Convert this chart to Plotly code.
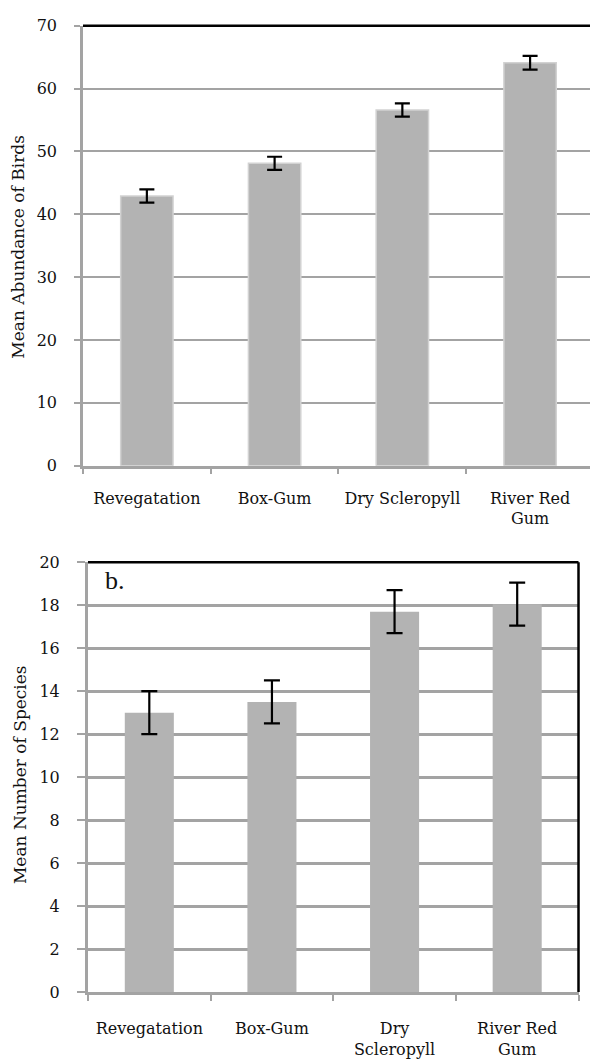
import plotly.graph_objects as go

# ---- data ----
cats_top = ["Revegatation", "Box-Gum", "Dry Scleropyll", "River Red<br>Gum"]
abund_mean = [42.9, 48.1, 56.6, 64.1]
abund_err = [1.05, 1.05, 1.05, 1.1]

cats_bot = ["Revegatation", "Box-Gum", "Dry<br>Scleropyll", "River Red<br>Gum"]
species_mean = [13.0, 13.5, 17.7, 18.05]
species_err = [1.0, 1.0, 1.0, 1.0]

top_ticks = [0, 10, 20, 30, 40, 50, 60, 70]
bot_ticks = [0, 2, 4, 6, 8, 10, 12, 14, 16, 18, 20]

W, H = 590, 1063
FONT = "DejaVu Serif"
GRID = "#a3a3a3"

def px(v):
    return v / W

def py(v):
    return 1 - v / H

fig = go.Figure()

fig.add_trace(go.Bar(
    x=cats_top, y=abund_mean, xaxis="x", yaxis="y", width=0.41,
    marker=dict(color="#b3b3b3", line=dict(color="#d2d2d2", width=1.5)),
    error_y=dict(type="data", array=abund_err, color="black", thickness=2.2, width=7.5),
    showlegend=False,
))
fig.add_trace(go.Bar(
    x=cats_bot, y=species_mean, xaxis="x2", yaxis="y2", width=0.4,
    marker=dict(color="#b3b3b3", line=dict(width=0)),
    error_y=dict(type="data", array=species_err, color="black", thickness=2.2, width=8),
    showlegend=False,
))

tickfont = dict(family=FONT, size=16, color="#111")

fig.update_layout(
    width=W, height=H,
    margin=dict(l=0, r=0, t=0, b=0),
    paper_bgcolor="white", plot_bgcolor="white",
    bargap=0.59,
    xaxis=dict(
        domain=[px(83), 1.0], anchor="y", range=[-0.5, 3.469],
        showline=True, linecolor=GRID, linewidth=2.5,
        ticks="outside", ticklen=6, tickcolor=GRID, tickwidth=2,
        tickson="boundaries", showgrid=False, tickfont=tickfont,
        tickangle=0, ticklabelstandoff=16,
    ),
    yaxis=dict(
        domain=[py(465), py(17)], anchor="x", range=[0, 70],
        tickvals=top_ticks, showline=True, linecolor=GRID, linewidth=2.5,
        ticks="outside", ticklen=6, tickcolor=GRID, tickwidth=2,
        showgrid=True, gridcolor=GRID, gridwidth=2, zeroline=False,
        tickfont=tickfont, ticklabelstandoff=14,
    ),
    xaxis2=dict(
        domain=[px(88), px(578.5)], anchor="y2", range=[-0.5, 3.5],
        showline=True, linecolor=GRID, linewidth=3,
        ticks="outside", ticklen=6, tickcolor=GRID, tickwidth=2,
        tickson="boundaries", showgrid=False, tickfont=tickfont,
        tickangle=0, ticklabelstandoff=20,
    ),
    yaxis2=dict(
        domain=[py(1001), py(563.3)], anchor="x2", range=[0, 20],
        tickvals=bot_ticks, showline=True, linecolor=GRID, linewidth=3,
        ticks="outside", ticklen=8, tickcolor=GRID, tickwidth=2,
        showgrid=True, gridcolor=GRID, gridwidth=2.5, zeroline=False,
        tickfont=tickfont, ticklabelstandoff=14,
    ),
    shapes=[
        dict(type="line", xref="x domain", yref="y domain", x0=0, x1=1, y0=1, y1=1,
             line=dict(color="black", width=2.5)),
        dict(type="line", xref="x2 domain", yref="y2 domain", x0=0, x1=1, y0=1, y1=1,
             line=dict(color="black", width=2.5)),
        dict(type="line", xref="x2 domain", yref="y2 domain", x0=1, x1=1, y0=0, y1=1,
             line=dict(color="black", width=2.5)),
    ],
    annotations=[
        dict(text="Mean Abundance of Birds", textangle=-90, x=px(18), y=py(242),
             xref="paper", yref="paper", xanchor="center", yanchor="middle",
             showarrow=False, font=dict(family=FONT, size=17, color="#111")),
        dict(text="Mean Number of Species", textangle=-90, x=px(20), y=py(780),
             xref="paper", yref="paper", xanchor="center", yanchor="middle",
             showarrow=False, font=dict(family=FONT, size=17, color="#111")),
        dict(text="b.", x=px(103), y=py(582), xref="paper", yref="paper",
             xanchor="left", yanchor="middle", showarrow=False,
             font=dict(family="Liberation Serif", size=26, color="#111")),
    ],
)

fig.write_html("out.html")
